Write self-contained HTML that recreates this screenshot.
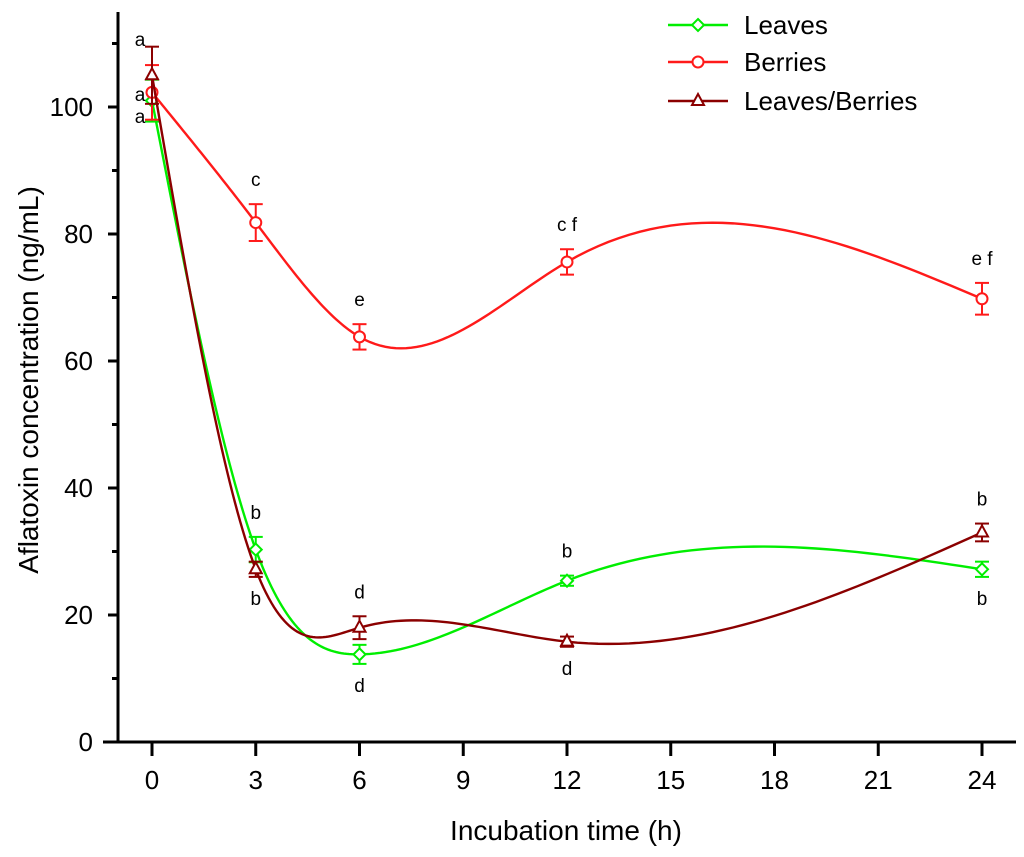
<!DOCTYPE html>
<html><head><meta charset="utf-8"><style>
body{margin:0;background:#fff}
svg text{font-family:"Liberation Sans",Arial,sans-serif}
</style></head><body>
<svg id="chart" width="1024" height="852" xmlns="http://www.w3.org/2000/svg"></svg>
<script>
const xTicks=[0,3,6,9,12,15,18,21,24];
const yTicks=[0,20,40,60,80,100];
const times=[0,3,6,12,24];
const leaves=[101,30.3,13.8,25.4,27.2];
const leavesErr=[3.3,2,1.5,0.8,1.2];
const berries=[102.3,81.8,63.8,75.6,69.8];
const berriesErr=[4.3,2.9,2,2,2.5];
const mixed=[105,27.2,18,15.8,33];
const mixedErr=[4.5,1.2,1.8,0.8,1.4];
const leavesLbl=['a','b','d','b','b'];
const berriesLbl=['a','c','e','c f','e f'];
const mixedLbl=['a','b','d','d','b'];

const NS='http://www.w3.org/2000/svg';
const svg=document.getElementById('chart');
const X=v=>152+v*(982-152)/24;
const Y=v=>742-v*(742-107)/100;
function el(t,a,p){const e=document.createElementNS(NS,t);for(const k in a)e.setAttribute(k,a[k]);(p||svg).appendChild(e);return e;}

let ya=el('line',{x1:118,y1:12,x2:118,y2:743,stroke:'#000','stroke-width':3});


let xa=el('line',{x1:103,y1:742,x2:1016,y2:742,stroke:'#000','stroke-width':3});


yTicks.forEach(v=>{
  el('line',{x1:108,y1:Y(v),x2:118,y2:Y(v),stroke:'#000','stroke-width':3});
  const t=el('text',{x:93,y:Y(v)+9,'text-anchor':'end','font-size':26});t.textContent=v;
  
  
});
[10,30,50,70,90,110].forEach(v=>el('line',{x1:112,y1:Y(v),x2:118,y2:Y(v),stroke:'#000','stroke-width':3}));
xTicks.forEach(v=>{
  el('line',{x1:X(v),y1:742,x2:X(v),y2:756,stroke:'#000','stroke-width':3});
  const t=el('text',{x:X(v),y:789,'text-anchor':'middle','font-size':26});t.textContent=v;
  
  
});
let xt=el('text',{x:566,y:840,'text-anchor':'middle','font-size':28});xt.textContent='Incubation time (h)';


let yt=el('text',{x:0,y:0,'text-anchor':'middle','font-size':28,transform:'translate(38,380) rotate(-90)'});yt.textContent='Aflatoxin concentration (ng/mL)';



function spline(xs,ys){
  const n=xs.length,h=[],a=[],l=[1],mu=[0],z=[0],c=new Array(n).fill(0),b=[],d=[];
  for(let i=0;i<n-1;i++)h[i]=xs[i+1]-xs[i];
  for(let i=1;i<n-1;i++)a[i]=3/h[i]*(ys[i+1]-ys[i])-3/h[i-1]*(ys[i]-ys[i-1]);
  for(let i=1;i<n-1;i++){l[i]=2*(xs[i+1]-xs[i-1])-h[i-1]*mu[i-1];mu[i]=h[i]/l[i];z[i]=(a[i]-h[i-1]*z[i-1])/l[i];}
  for(let j=n-2;j>=0;j--){c[j]=z[j]-mu[j]*c[j+1];b[j]=(ys[j+1]-ys[j])/h[j]-h[j]*(c[j+1]+2*c[j])/3;d[j]=(c[j+1]-c[j])/(3*h[j]);}
  let pts=[];
  for(let j=0;j<n-1;j++)for(let s=0;s<=40;s++){const t=h[j]*s/40;pts.push(X(xs[j]+t)+','+Y(ys[j]+b[j]*t+c[j]*t*t+d[j]*t*t*t));}
  return pts.join(' ');
}
function marker(g,type,x,y,col){
  if(type==='d')el('polygon',{points:`${x},${y-6} ${x+6},${y} ${x},${y+6} ${x-6},${y}`,fill:'#fff',stroke:col,'stroke-width':2},g);
  else if(type==='o')el('circle',{cx:x,cy:y,r:5.5,fill:'#fff',stroke:col,'stroke-width':2},g);
  else el('polygon',{points:`${x},${y-7} ${x+6},${y+4} ${x-6},${y+4}`,fill:'#fff',stroke:col,'stroke-width':2},g);
}
function series(name,vals,errs,col,type,lbls,above,zeroLblY){
  const g=el('g',{});
  
  
  el('polyline',{points:spline(times,vals),fill:'none',stroke:col,'stroke-width':2.4},g);
  times.forEach((t,i)=>{
    const x=X(t),yv=Y(vals[i]),y1=Y(vals[i]+errs[i]),y2=Y(vals[i]-errs[i]);
    el('line',{x1:x,y1:y1,x2:x,y2:y2,stroke:col,'stroke-width':2},g);
    el('line',{x1:x-7,y1:y1,x2:x+7,y2:y1,stroke:col,'stroke-width':2},g);
    el('line',{x1:x-7,y1:y2,x2:x+7,y2:y2,stroke:col,'stroke-width':2},g);
    marker(g,type,x,yv,col);
    const up=above[i];
    const lx=i===0?x-12:x, ly=i===0?zeroLblY:(up?y1-18:y2+28);
    const tx=el('text',{x:lx,y:ly,'text-anchor':'middle','font-size':19},g);tx.textContent=lbls[i];
    
    
  });
}
series('leaves',leaves,leavesErr,'#00ee00','d',leavesLbl,[0,1,0,1,0],123);
series('berries',berries,berriesErr,'#ff1a1a','o',berriesLbl,[1,1,1,1,1],101);
series('leaves-berries',mixed,mixedErr,'#8b0000','t',mixedLbl,[0,0,1,0,1],46);

const legNames=['Leaves','Berries','Leaves/Berries'],legCols=['#00ee00','#ff1a1a','#8b0000'],legTypes=['d','o','t'],legY=[25,62,101];
legNames.forEach((n,i)=>{
  const g=el('g',{});
  
  
  el('line',{x1:668,y1:legY[i],x2:728,y2:legY[i],stroke:legCols[i],'stroke-width':2.4},g);
  marker(g,legTypes[i],698,legY[i],legCols[i]);
  const t=el('text',{x:744,y:legY[i]+9,'font-size':26},g);t.textContent=n;
});
</script>
</body></html>
